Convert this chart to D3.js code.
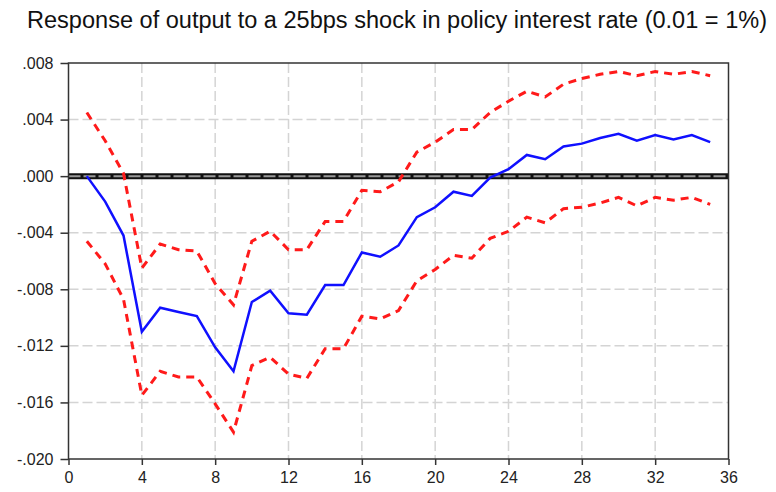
<!DOCTYPE html>
<html>
<head>
<meta charset="utf-8">
<script src="https://cdn.jsdelivr.net/npm/d3@7"></script>
<style>
  body { margin: 0; background: #fff; }
  text { font-family: "Liberation Sans", Arial, sans-serif; }
</style>
</head>
<body>
<div id="chart"></div>
<script>
let width = 776
let height = 492
let margin = {top: 63, right: 47.5, bottom: 33, left: 68.5}

// horizon (periods after the shock)
let periods = d3.range(1, 36)

// impulse response of output
let response = [
  0.0000, -0.0018, -0.0042, -0.0110, -0.0093, -0.0096, -0.0099, -0.0121, -0.0138, -0.0089,
  -0.0081, -0.0097, -0.0098, -0.0077, -0.0077, -0.0054, -0.0057, -0.0049, -0.0029, -0.0022,
  -0.0011, -0.0014, -0.0001, 0.0005, 0.0015, 0.0012, 0.0021, 0.0023, 0.0027, 0.0030,
  0.0025, 0.0029, 0.0026, 0.0029, 0.0024
]

// upper confidence band
let upper = [
  0.0045, 0.0025, 0.0002, -0.0065, -0.0048, -0.0052, -0.0053, -0.0076, -0.0091, -0.0046,
  -0.0039, -0.0052, -0.0052, -0.0032, -0.0032, -0.0010, -0.0011, -0.0004, 0.0017, 0.0024,
  0.0033, 0.0033, 0.0045, 0.0053, 0.0060, 0.0056, 0.0065, 0.0069, 0.0072, 0.0074,
  0.0071, 0.0074, 0.0072, 0.0074, 0.0071
]

// lower confidence band
let lower = [
  -0.0046, -0.0062, -0.0087, -0.0155, -0.0138, -0.0142, -0.0142, -0.0161, -0.0181, -0.0134,
  -0.0128, -0.0140, -0.0143, -0.0122, -0.0122, -0.0099, -0.0101, -0.0095, -0.0074, -0.0066,
  -0.0056, -0.0058, -0.0044, -0.0039, -0.0029, -0.0033, -0.0023, -0.0022, -0.0019, -0.0015,
  -0.0021, -0.0015, -0.0017, -0.0015, -0.0020
]

let xTicks = [0, 4, 8, 12, 16, 20, 24, 28, 32, 36]
let yTicks = [0.008, 0.004, 0, -0.004, -0.008, -0.012, -0.016, -0.020]
let yLabels = [".008", ".004", ".000", "-.004", "-.008", "-.012", "-.016", "-.020"]

let svg = d3.select("#chart")
    .append("svg")
    .attr("width", width)
    .attr("height", height)

let x = d3.scaleLinear()
    .domain([0, 36])
    .range([margin.left, width - margin.right])

let y = d3.scaleLinear()
    .domain([-0.020, 0.008])
    .range([height - margin.bottom, margin.top])

svg.append("text")
    .attr("x", 27)
    .attr("y", 27.5)
    .style("font-size", "23.5px")
    .attr("textLength", 740)
    .attr("lengthAdjust", "spacingAndGlyphs")
    .attr("fill", "#111")
    .text("Response of output to a 25bps shock in policy interest rate (0.01 = 1%)")

// grid
let grid = svg.append("g")
grid.selectAll(".vgrid")
    .data(xTicks.slice(1, -1))
    .enter()
    .append("line")
    .attr("x1", d => x(d)).attr("x2", d => x(d))
    .attr("y1", y(0.008)).attr("y2", y(-0.020))
    .attr("stroke", "#d4d4d4")
    .attr("stroke-width", 1.5)
    .attr("stroke-dasharray", "10,4")
grid.selectAll(".hgrid")
    .data(yTicks.slice(1, -1))
    .enter()
    .append("line")
    .attr("x1", x(0)).attr("x2", x(36))
    .attr("y1", d => y(d)).attr("y2", d => y(d))
    .attr("stroke", "#d4d4d4")
    .attr("stroke-width", 1.5)
    .attr("stroke-dasharray", "10,4")

// zero line
svg.append("line")
    .attr("x1", x(0)).attr("x2", x(36))
    .attr("y1", y(0)).attr("y2", y(0))
    .attr("stroke", "#111")
    .attr("stroke-width", 6)
svg.append("line")
    .attr("x1", x(0)).attr("x2", x(36))
    .attr("y1", y(0)).attr("y2", y(0))
    .attr("stroke", "#999")
    .attr("stroke-width", 2)
    .attr("stroke-dasharray", "12,3")

let line = d3.line()
    .x((d, i) => x(periods[i]))
    .y(d => y(d))

svg.append("path")
    .datum(upper)
    .attr("d", line)
    .attr("fill", "none")
    .attr("stroke", "#ff1a1a")
    .attr("stroke-width", 3)
    .attr("stroke-dasharray", "8,6")

svg.append("path")
    .datum(lower)
    .attr("d", line)
    .attr("fill", "none")
    .attr("stroke", "#ff1a1a")
    .attr("stroke-width", 3)
    .attr("stroke-dasharray", "8,6")

svg.append("path")
    .datum(response)
    .attr("d", line)
    .attr("fill", "none")
    .attr("stroke", "#1010ff")
    .attr("stroke-width", 2.5)

// frame
svg.append("rect")
    .attr("x", x(0)).attr("y", y(0.008))
    .attr("width", x(36) - x(0))
    .attr("height", y(-0.020) - y(0.008))
    .attr("fill", "none")
    .attr("stroke", "#333")
    .attr("stroke-width", 1.5)

let xAxis = svg.append("g")
    .attr("transform", `translate(0,${y(-0.020)})`)
    .call(d3.axisBottom(x).tickValues(xTicks).tickSize(6).tickPadding(7))
xAxis.select(".domain").remove()
xAxis.selectAll("line").attr("stroke", "#333").attr("stroke-width", 1.5)
xAxis.selectAll("text").style("font-size", "16px").attr("fill", "#222")

let yAxis = svg.append("g")
    .attr("transform", `translate(${x(0)},0)`)
    .call(d3.axisLeft(y).tickValues(yTicks).tickSize(8).tickPadding(7)
        .tickFormat((d, i) => yLabels[i]))
yAxis.select(".domain").remove()
yAxis.selectAll("line").attr("stroke", "#333").attr("stroke-width", 1.5)
yAxis.selectAll("text").style("font-size", "16px").attr("fill", "#222")
</script>
</body>
</html>
